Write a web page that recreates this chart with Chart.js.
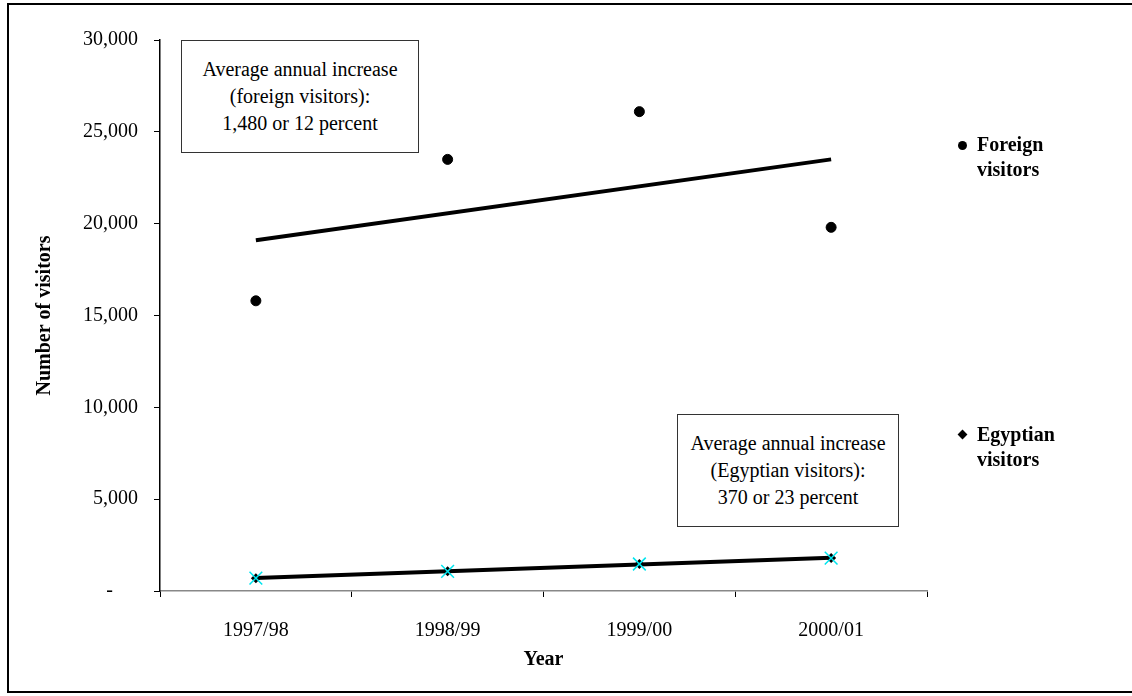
<!DOCTYPE html>
<html>
<head>
<meta charset="utf-8">
<script src="https://cdn.jsdelivr.net/npm/chart.js@4/dist/chart.umd.min.js"></script>
<style>
  html, body { margin: 0; padding: 0; background: #fff; }
  #wrap { position: relative; width: 1132px; height: 696px; font-family: 'Liberation Serif', 'Times New Roman', serif; color: #000; }
  #frame { position: absolute; left: 7px; top: 3px; width: 1130px; height: 690px; border: 2px solid #000; box-sizing: border-box; pointer-events: none; }
  canvas { position: absolute; left: 0; top: 0; }
  .note { position: absolute; border: 1px solid #333; background: #fff; font-size: 20px; line-height: 27px; text-align: center; display: flex; align-items: center; justify-content: center; box-sizing: border-box; }
  .key { position: absolute; font-size: 20px; font-weight: bold; line-height: 25px; }
  .dot { position: absolute; width: 9px; height: 9px; border-radius: 50%; background: #000; }
  .dia { position: absolute; width: 7px; height: 7px; background: #000; transform: rotate(45deg); }
</style>
</head>
<body>
<div id="wrap">
  <canvas id="visitorsChart" width="1132" height="696"></canvas>
  <div class="note" style="left:181px; top:40px; width:238px; height:113px;">Average annual increase<br>(foreign visitors):<br>1,480 or 12 percent</div>
  <div class="note" style="left:677px; top:414px; width:222px; height:113px;">Average annual increase<br>(Egyptian visitors):<br>370 or 23 percent</div>
  <div class="dot" style="left:958px; top:141px;"></div>
  <div class="key" style="left:977px; top:132px;">Foreign<br>visitors</div>
  <div class="dia" style="left:959px; top:431px;"></div>
  <div class="key" style="left:977px; top:422px;">Egyptian<br>visitors</div>
  <div id="frame"></div>
</div>
<script>
// datos
const years = ['1997/98', '1998/99', '1999/00', '2000/01'];
const foreignVisitors = [15800, 23500, 26100, 19800];
const egyptianVisitors = [700, 1070, 1470, 1790];
// extremos de las lineas de tendencia
const foreignTrend = [19100, null, null, 23500];
const egyptianTrend = [710, null, null, 1810];
const yTicks = [0, 5000, 10000, 15000, 20000, 25000, 30000];

const serif = "'Liberation Serif', 'Times New Roman', serif";

new Chart(document.getElementById('visitorsChart'), {
    type: 'line',
    data: {
        labels: years,
        datasets: [{
            label: 'Foreign visitors',
            data: foreignVisitors,
            showLine: false,
            pointStyle: 'circle',
            pointRadius: 5,
            pointBackgroundColor: '#000',
            pointBorderColor: '#000',
            order: 0
        }, {
            label: 'Egyptian visitors',
            data: egyptianVisitors,
            showLine: false,
            pointStyle: 'rectRot',
            pointRadius: 5,
            pointBackgroundColor: '#000',
            pointBorderColor: '#000',
            pointBorderWidth: 0,
            order: 1
        }, {
            label: 'Egyptian visitors (marker)',
            data: egyptianVisitors,
            showLine: false,
            pointStyle: 'crossRot',
            pointRadius: 9,
            pointBorderColor: '#00e5ee',
            pointBorderWidth: 1.5,
            order: 0
        }, {
            label: 'Foreign trend',
            data: foreignTrend,
            spanGaps: true,
            borderColor: '#000',
            borderWidth: 4,
            pointRadius: 0,
            order: 2
        }, {
            label: 'Egyptian trend',
            data: egyptianTrend,
            spanGaps: true,
            borderColor: '#000',
            borderWidth: 4,
            pointRadius: 0,
            order: 2
        }]
    },
    options: {
        responsive: false,
        animation: false,
        layout: { padding: { left: 0, top: 40, right: 205, bottom: 0 } },
        plugins: {
            legend: { display: false },
            tooltip: { enabled: false }
        },
        scales: {
            x: {
                offset: true,
                grid: { offset: true, drawOnChartArea: false, tickLength: 6, color: '#000' },
                border: { color: '#888', width: 1.5 },
                ticks: { color: '#000', padding: 22, font: { family: serif, size: 20 } },
                title: { display: true, text: 'Year', color: '#000', padding: { top: 0, bottom: 24 }, font: { family: serif, size: 20, weight: 'bold' } },
                afterFit: scale => { scale.height = 105; }
            },
            y: {
                min: 0,
                max: 30000,
                afterBuildTicks: scale => { scale.ticks = yTicks.map(v => ({ value: v })); },
                grid: { drawOnChartArea: false, tickLength: 6, color: '#000' },
                border: { color: '#000', width: 1.5 },
                ticks: {
                    color: '#000',
                    padding: 16,
                    font: { family: serif, size: 20 },
                    callback: v => v === 0 ? '-     ' : v.toLocaleString('en-US')
                },
                title: { display: true, text: 'Number of visitors', color: '#000', padding: { top: 33 }, font: { family: serif, size: 20, weight: 'bold' } },
                afterFit: scale => { scale.width = 160; }
            }
        }
    }
});
</script>
</body>
</html>
